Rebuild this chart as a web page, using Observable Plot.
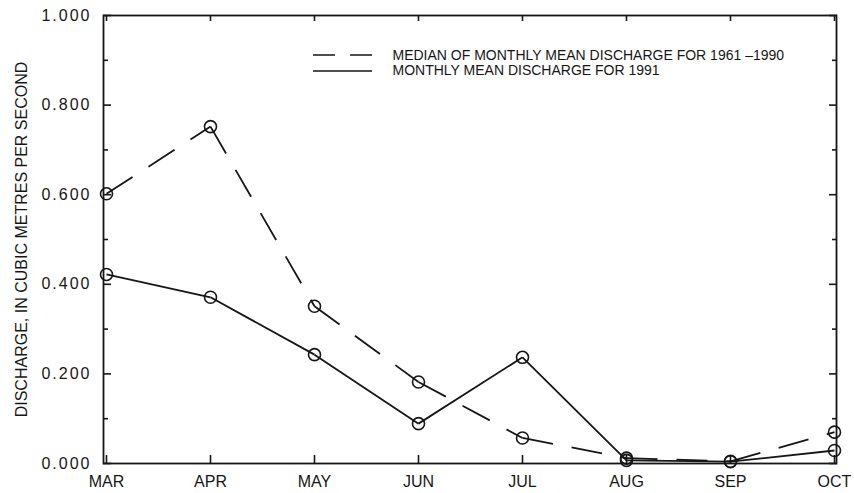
<!DOCTYPE html>
<html><head><meta charset="utf-8">
<script src="https://cdn.jsdelivr.net/npm/d3@7"></script>
<script src="https://cdn.jsdelivr.net/npm/@observablehq/plot@0.6"></script>
<style>
body{margin:0;background:#fff;}
svg [aria-label="y-axis tick label"] text{letter-spacing:2px;}
</style></head><body><div id="chart"></div>
<script>
const months = ["MAR","APR","MAY","JUN","JUL","AUG","SEP","OCT"];
const median6190 = [0.602, 0.752, 0.351, 0.182, 0.057, 0.012, 0.005, 0.070];
const mean1991 = [0.422, 0.371, 0.243, 0.089, 0.237, 0.007, 0.004, 0.029];
const yMajor = [0, 0.2, 0.4, 0.6, 0.8, 1.0];
const yMinor = [0.1, 0.3, 0.5, 0.7, 0.9];
const yTitle = "DISCHARGE, IN CUBIC METRES PER SECOND";
const legendLabels = ["MEDIAN OF MONTHLY MEAN DISCHARGE FOR 1961 \u20131990", "MONTHLY MEAN DISCHARGE FOR 1991"];

const ink = "#161616";
const pts = (vals) => vals.map((v, i) => ({m: months[i], v}));
const segs = (vals) => vals.slice(1).map((v, i) => ({m1: months[i], v1: vals[i], m2: months[i + 1], v2: v}));

const chart = Plot.plot({
  width: 854, height: 493,
  marginLeft: 103, marginRight: 18, marginTop: 15, marginBottom: 30,
  style: {fontFamily: "'Liberation Sans', Arial, sans-serif", fontSize: "16px", color: ink, background: "#fff"},
  x: {type: "point", domain: months, padding: 0},
  y: {domain: [0, 1]},
  marks: [
    Plot.axisY(yMajor, {anchor: "left", tickSize: 8, dx: 8, tickFormat: () => "", strokeWidth: 1.6, label: null}),
    Plot.axisY(yMinor, {anchor: "left", tickSize: 5, dx: 5, tickFormat: () => "", strokeWidth: 1.6, label: null}),
    Plot.axisY(yMajor, {anchor: "right", tickSize: 8, dx: -8, tickFormat: () => "", strokeWidth: 1.6, label: null}),
    Plot.axisY(yMinor, {anchor: "right", tickSize: 5, dx: -5, tickFormat: () => "", strokeWidth: 1.6, label: null}),
    Plot.axisY(yMajor, {anchor: "left", tickSize: 0, tickPadding: 12, tickFormat: d3.format(".3f"), fontSize: 16, label: null}),
    Plot.axisX({anchor: "top", tickSize: 5, dy: 5, tickFormat: () => "", strokeWidth: 1.6, label: null}),
    Plot.axisX({anchor: "bottom", tickSize: 8, dy: -8, tickFormat: () => "", strokeWidth: 1.6, label: null}),
    Plot.axisX({anchor: "bottom", tickSize: 0, tickPadding: 12, fontSize: 16, label: null}),
    Plot.frame({stroke: ink, strokeWidth: 1.8}),
    Plot.link(segs(median6190), {x1: "m1", y1: "v1", x2: "m2", y2: "v2", stroke: ink, strokeWidth: 1.8, strokeDasharray: "31,19"}),
    Plot.link(segs(mean1991), {x1: "m1", y1: "v1", x2: "m2", y2: "v2", stroke: ink, strokeWidth: 1.8}),
    Plot.dot(pts(median6190), {x: "m", y: "v", r: 6, stroke: ink, strokeWidth: 1.6, fill: "none"}),
    Plot.dot(pts(mean1991), {x: "m", y: "v", r: 6, stroke: ink, strokeWidth: 1.6, fill: "none"}),
    Plot.text([yTitle], {frameAnchor: "left", dx: -82, rotate: -90, textAnchor: "middle", lineAnchor: "middle", fontSize: 16, fill: ink, text: d => d, ariaLabel: "ytitle"}),
    Plot.text([legendLabels[0]], {frameAnchor: "top-left", dx: 289, dy: 40, textAnchor: "start", lineAnchor: "middle", fontSize: 14, fill: ink, text: d => d, ariaLabel: "legend1"}),
    Plot.text([legendLabels[1]], {frameAnchor: "top-left", dx: 289, dy: 55, textAnchor: "start", lineAnchor: "middle", fontSize: 14, fill: ink, text: d => d, ariaLabel: "legend2"})
  ]
});
document.getElementById("chart").appendChild(chart);

const svg = d3.select(chart);
// fit text lengths to the reference's condensed lettering
svg.selectAll('[aria-label="legend1"] text').attr("textLength", 391).attr("lengthAdjust", "spacingAndGlyphs");
svg.selectAll('[aria-label="legend2"] text').attr("textLength", 261).attr("lengthAdjust", "spacingAndGlyphs");
svg.selectAll('[aria-label="ytitle"] text').attr("textLength", 405).attr("lengthAdjust", "spacing");
// legend line samples
const lg = svg.append("g").attr("stroke", ink).attr("stroke-width", 1.7);
lg.append("line").attr("x1", 313).attr("x2", 372).attr("y1", 55).attr("y2", 55).attr("stroke-dasharray", "22,15");
lg.append("line").attr("x1", 313).attr("x2", 372).attr("y1", 71).attr("y2", 71);
</script></body></html>
